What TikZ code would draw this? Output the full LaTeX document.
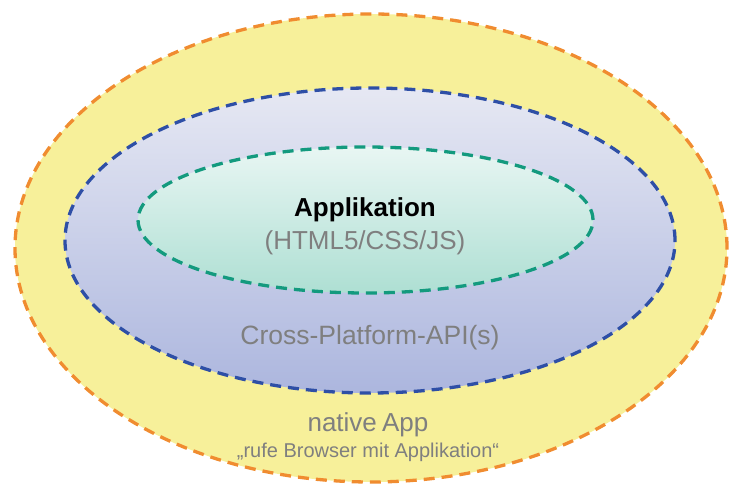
\documentclass[tikz,border=0pt]{standalone}
\usepackage{fontspec}
\setmainfont{Liberation Sans}
\usetikzlibrary{shapes.geometric}
\definecolor{ofill}{HTML}{F7F09A}
\definecolor{oline}{HTML}{F08C30}
\definecolor{mtop}{HTML}{E6E8F3}
\definecolor{mbot}{HTML}{ACB6DE}
\definecolor{mline}{HTML}{2E4FA6}
\definecolor{itop}{HTML}{E8F6F3}
\definecolor{ibot}{HTML}{AEDFD3}
\definecolor{iline}{HTML}{139A7E}
\definecolor{txtgray}{HTML}{7F7F7F}
\tikzset{
  ring/.style={ellipse, inner sep=0pt, line width=3.3pt, dash pattern=on 11pt off 7pt},
  graytxt/.style={text=txtgray, inner sep=0pt, anchor=base}
}
\begin{document}
\begin{tikzpicture}[x=1pt,y=1pt]
\useasboundingbox (0,0) rectangle (732,484);
\node[ring, draw=oline, fill=ofill, minimum width=712pt, minimum height=468pt] (outer) at (371,236) {};
\node[ring, draw=mline, top color=mtop, bottom color=mbot, minimum width=610pt, minimum height=305pt] (mid) at (370,243.5) {};
\node[ring, draw=iline, top color=itop, bottom color=ibot, minimum width=455pt, minimum height=146pt] (inner) at (365.5,264) {};
\node[inner sep=0pt, anchor=base, font=\fontsize{26}{30}\selectfont\bfseries] (app) at (365,267) {Applikation};
\node[graytxt, font=\fontsize{26}{30}\selectfont] (html) at (365,234) {(HTML5/CSS/JS)};
\node[graytxt, font=\fontsize{26.5}{30}\selectfont] (api) at (370,139) {Cross-Platform-API(s)};
\node[graytxt, font=\fontsize{26}{30}\selectfont] (native) at (368,52) {native\hspace{-2pt} App};
\node[graytxt, font=\fontsize{20}{24}\selectfont] (rufe) at (368,26) {„rufe Browser mit Applikation“};
\end{tikzpicture}
\end{document}
